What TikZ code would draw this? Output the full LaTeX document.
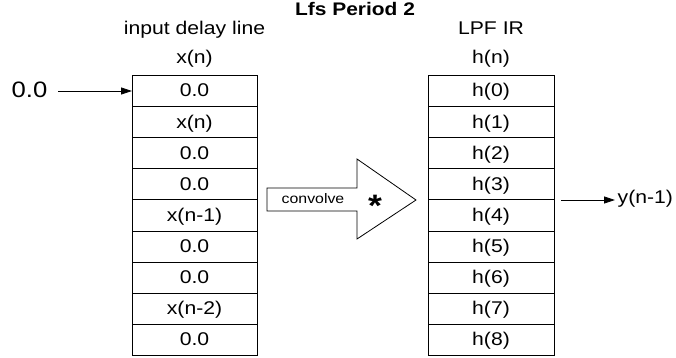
\documentclass[tikz,border=0pt]{standalone}
\usepackage{fontspec}
\setmainfont[FakeStretch=1.15]{Liberation Sans}
\usetikzlibrary{arrows.meta,calc}
\begin{document}
\begin{tikzpicture}[x=1pt,y=-1pt,
  txt/.style={inner sep=0pt,font=\fontsize{18.4}{20}\selectfont},
  cell/.style={draw,line width=0.8pt,minimum width=125pt,minimum height=31.1pt,inner sep=0pt,anchor=north west},
  conn/.style={line width=0.8pt,-{Triangle[length=11pt,width=7pt]}}]
\useasboundingbox (0,0) rectangle (676,358);
% title
\node[txt,anchor=base,font=\fontsize{18.2}{20}\selectfont\bfseries] (title) at (355,16) {Lfs Period 2};
\node[txt,anchor=base] (inlab) at (194.5,34.7) {input delay line};
\node[txt,anchor=base] (inlab2) at (194.5,64) {x(n)};
\node[txt,anchor=base] (irlab) at (491,34.7) {LPF IR};
\node[txt,anchor=base] (irlab2) at (491,64) {h(n)};
% left column
\foreach \t [count=\i from 0] in {0.0,x(n),0.0,0.0,x(n-1),0.0,0.0,x(n-2),0.0}{
  \node[cell] (L\i) at (132,{75+31.1*\i}) {};
  \node[txt,anchor=base] (Lt\i) at ($(132,{75+31.1*\i})+(62.5,22)$) {\t};
}
% right column
\foreach \t [count=\i from 0] in {h(0),h(1),h(2),h(3),h(4),h(5),h(6),h(7),h(8)}{
  \node[cell,minimum width=126pt] (R\i) at (428,{75+31.1*\i}) {};
  \node[txt,anchor=base] (Rt\i) at ($(428,{75+31.1*\i})+(63,22)$) {\t};
}
% input
\node[txt,anchor=base east,font=\fontsize{22.3}{24}\selectfont] (in) at (47.5,98) {0.0};
\coordinate (instart) at (58,91);
\draw[conn] (instart) -- (L0.west|-instart);
% output
\coordinate (outstart) at (561,200);
\coordinate (outend) at (615,200);
\draw[conn] (outstart) -- (outend);
\node[txt,anchor=base west] (out) at (617.5,203) {y(n-1)};
% convolve arrow
\draw[line width=0.8pt,fill=white] (267,188) -- (357,188) -- (357,159) -- (416,200) -- (357,239) -- (357,211) -- (267,211) -- cycle;
\node[txt,anchor=base,font=\fontsize{13.8}{16}\selectfont] (conv) at (313,203) {convolve};
\node[txt,anchor=base,font=\fontsize{31}{34}\selectfont\bfseries] (star) at (375,216) {*};
\end{tikzpicture}
\end{document}
